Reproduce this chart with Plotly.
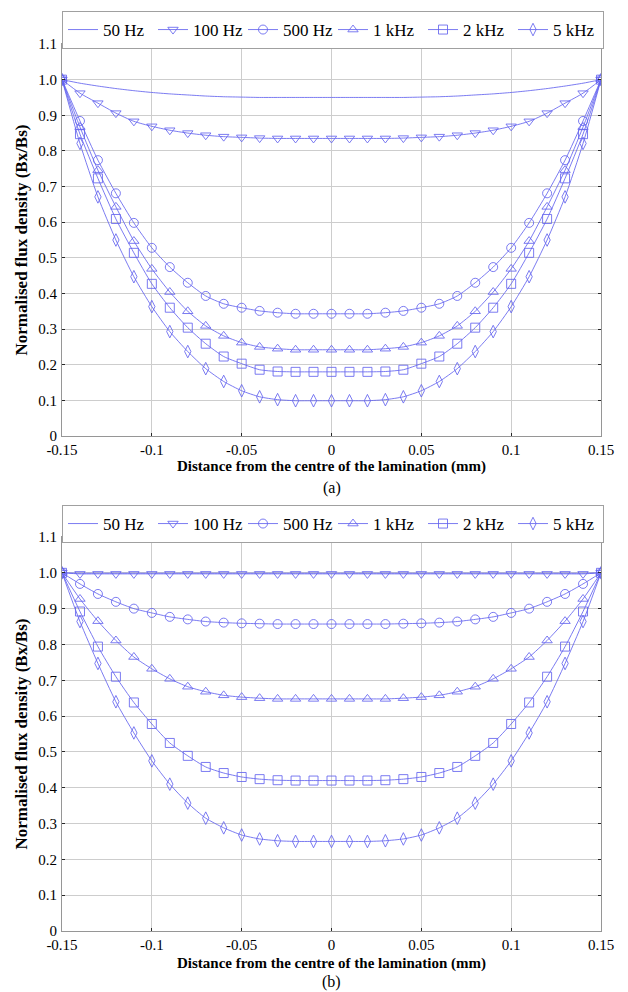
import plotly.graph_objects as go

# ---------------- data ----------------
x_pos = [-0.15, -0.14, -0.13, -0.12, -0.11, -0.10, -0.09, -0.08, -0.07, -0.06, -0.05,
         -0.04, -0.03, -0.02, -0.01, 0.0, 0.01, 0.02, 0.03, 0.04, 0.05, 0.06, 0.07,
         0.08, 0.09, 0.10, 0.11, 0.12, 0.13, 0.14, 0.15]

series_names = ["50 Hz", "100 Hz", "500 Hz", "1 kHz", "2 kHz", "5 kHz"]

# panel (a)
a_50 = [1.0, 0.99, 0.982, 0.975, 0.969, 0.964, 0.96, 0.957, 0.954, 0.952, 0.951, 0.95, 0.95, 0.95, 0.95,
        0.95, 0.95, 0.95, 0.95, 0.95, 0.951, 0.952, 0.954, 0.957, 0.96, 0.964, 0.969, 0.975, 0.982, 0.99, 1.0]
a_100 = [1.0, 0.962, 0.934, 0.906, 0.883, 0.869, 0.858, 0.85, 0.844, 0.84, 0.838, 0.836, 0.835, 0.835, 0.835,
         0.835, 0.835, 0.835, 0.835, 0.836, 0.838, 0.84, 0.844, 0.85, 0.858, 0.869, 0.883, 0.906, 0.934, 0.962, 1.0]
a_500 = [1.0, 0.884, 0.774, 0.681, 0.598, 0.528, 0.474, 0.43, 0.393, 0.371, 0.36, 0.351, 0.346, 0.343, 0.343,
         0.343, 0.343, 0.343, 0.346, 0.351, 0.36, 0.371, 0.393, 0.43, 0.474, 0.528, 0.598, 0.681, 0.774, 0.884, 1.0]
a_1k = [1.0, 0.867, 0.746, 0.643, 0.547, 0.469, 0.404, 0.35, 0.309, 0.281, 0.262, 0.25, 0.245, 0.242, 0.242,
        0.242, 0.242, 0.242, 0.245, 0.25, 0.262, 0.281, 0.309, 0.35, 0.404, 0.469, 0.547, 0.643, 0.746, 0.867, 1.0]
a_2k = [1.0, 0.847, 0.723, 0.609, 0.514, 0.427, 0.36, 0.304, 0.259, 0.223, 0.203, 0.186, 0.181, 0.18, 0.18,
        0.18, 0.18, 0.18, 0.181, 0.186, 0.203, 0.223, 0.259, 0.304, 0.36, 0.427, 0.514, 0.609, 0.723, 0.847, 1.0]
a_5k = [1.0, 0.821, 0.671, 0.55, 0.447, 0.363, 0.293, 0.237, 0.189, 0.153, 0.127, 0.11, 0.102, 0.099, 0.099,
        0.099, 0.099, 0.099, 0.102, 0.11, 0.127, 0.153, 0.189, 0.237, 0.293, 0.363, 0.447, 0.55, 0.671, 0.821, 1.0]

# panel (b)
b_50 = [1.0, 0.999, 0.999, 0.999, 0.999, 0.999, 0.999, 0.999, 0.999, 0.999, 0.999, 0.999, 0.999, 0.999, 0.999,
        0.999, 0.999, 0.999, 0.999, 0.999, 0.999, 0.999, 0.999, 0.999, 0.999, 0.999, 0.999, 0.999, 0.999, 0.999, 1.0]
b_100 = [1.0, 0.997, 0.997, 0.997, 0.997, 0.997, 0.997, 0.997, 0.997, 0.997, 0.997, 0.997, 0.997, 0.997, 0.997,
         0.997, 0.997, 0.997, 0.997, 0.997, 0.997, 0.997, 0.997, 0.997, 0.997, 0.997, 0.997, 0.997, 0.997, 0.997, 1.0]
b_500 = [1.0, 0.969, 0.941, 0.919, 0.9, 0.888, 0.877, 0.87, 0.864, 0.861, 0.859, 0.858, 0.857, 0.857, 0.857,
         0.857, 0.857, 0.857, 0.857, 0.858, 0.859, 0.861, 0.864, 0.87, 0.877, 0.888, 0.9, 0.919, 0.941, 0.969, 1.0]
b_1k = [1.0, 0.927, 0.865, 0.811, 0.765, 0.732, 0.704, 0.682, 0.668, 0.658, 0.653, 0.65, 0.648, 0.648, 0.648,
        0.648, 0.648, 0.648, 0.648, 0.65, 0.653, 0.658, 0.668, 0.682, 0.704, 0.732, 0.765, 0.811, 0.865, 0.927, 1.0]
b_2k = [1.0, 0.892, 0.794, 0.71, 0.638, 0.578, 0.525, 0.489, 0.458, 0.441, 0.43, 0.424, 0.421, 0.42, 0.42,
        0.42, 0.42, 0.42, 0.421, 0.424, 0.43, 0.441, 0.458, 0.489, 0.525, 0.578, 0.638, 0.71, 0.794, 0.892, 1.0]
b_5k = [1.0, 0.864, 0.747, 0.64, 0.553, 0.475, 0.41, 0.357, 0.315, 0.288, 0.268, 0.257, 0.252, 0.25, 0.25,
        0.25, 0.25, 0.25, 0.252, 0.257, 0.268, 0.288, 0.315, 0.357, 0.41, 0.475, 0.553, 0.64, 0.747, 0.864, 1.0]

panel_a = [a_50, a_100, a_500, a_1k, a_2k, a_5k]
panel_b = [b_50, b_100, b_500, b_1k, b_2k, b_5k]

x_tick_vals = [-0.15, -0.1, -0.05, 0, 0.05, 0.1, 0.15]
x_tick_text = ["-0.15", "-0.1", "-0.05", "0", "0.05", "0.1", "0.15"]
y_tick_vals = [0, 0.1, 0.2, 0.3, 0.4, 0.5, 0.6, 0.7, 0.8, 0.9, 1.0, 1.1]
y_tick_text = ["0", "0.1", "0.2", "0.3", "0.4", "0.5", "0.6", "0.7", "0.8", "0.9", "1.0", "1.1"]

x_title = "Distance from the centre of the lamination (mm)"
y_title = "Normalised flux density (Bx/Bs)"
panel_labels = ["(a)", "(b)"]

# ---------------- style ----------------
W, H = 628, 992
LINE_COL = "rgba(100,100,238,0.85)"
symbols = [None, "triangle-down-open", "circle-open", "triangle-up-open", "square-open", "diamond-tall-open"]
FONT = "Liberation Serif, Times New Roman, serif"

fig = go.Figure()

for p, (data, xa, ya, leg) in enumerate([(panel_a, "x", "y", "legend"), (panel_b, "x2", "y2", "legend2")]):
    for i, (name, ys) in enumerate(zip(series_names, data)):
        sym = symbols[i]
        fig.add_trace(go.Scatter(
            x=x_pos, y=ys, name=name, xaxis=xa, yaxis=ya, legend=leg,
            mode="lines" if sym is None else "lines+markers",
            line=dict(color=LINE_COL, width=1, shape="spline", smoothing=0.6),
            marker=dict(symbol=sym if sym else "circle", size=9,
                        color=LINE_COL, line=dict(color=LINE_COL, width=1)),
        ))


def px_x(v):
    return v / W


def px_y(v):
    return 1 - v / H


x_dom = [px_x(62), px_x(601)]
ya_dom = [px_y(436), px_y(44)]
yb_dom = [px_y(931), px_y(537)]

axis_common = dict(
    showgrid=True, gridcolor="rgb(205,205,205)", gridwidth=1,
    showline=True, linecolor="rgb(150,150,150)", linewidth=1, mirror="ticks",
    ticks="inside", ticklen=3, tickcolor="rgb(40,40,40)", automargin=False,
    zeroline=False, tickfont=dict(family=FONT, size=15, color="black"),
)

xaxis_kw = dict(axis_common, range=[-0.15, 0.15], tickvals=x_tick_vals, ticktext=x_tick_text,
                domain=x_dom, ticklabelstandoff=0)
yaxis_kw = dict(axis_common, range=[0, 1.1], tickvals=y_tick_vals, ticktext=y_tick_text,
                ticklabelstandoff=1,
                title=dict(text="<b>" + y_title + "</b>", font=dict(family=FONT, size=17, color="black"),
                           standoff=6))

legend_common = dict(
    orientation="h", xanchor="left", yanchor="top", x=px_x(62),
    bordercolor="rgb(160,160,160)", borderwidth=1, bgcolor="white",
    font=dict(family=FONT, size=17, color="black"),
    entrywidth=45, itemwidth=30, tracegroupgap=0,
)

title_font = dict(family=FONT, size=15, color="black")
annotations = []
for xt_y, lab_y, lab in [(466, 488, panel_labels[0]), (963, 982, panel_labels[1])]:
    annotations.append(dict(text="<b>" + x_title + "</b>", x=(x_dom[0] + x_dom[1]) / 2, y=px_y(xt_y),
                            xref="paper", yref="paper", showarrow=False, xanchor="center",
                            yanchor="middle", font=title_font))
    annotations.append(dict(text=lab, x=(x_dom[0] + x_dom[1]) / 2, y=px_y(lab_y),
                            xref="paper", yref="paper", showarrow=False, xanchor="center",
                            yanchor="middle", font=dict(family=FONT, size=16, color="black")))

fig.update_layout(
    width=W, height=H, margin=dict(l=0, r=0, t=0, b=0, autoexpand=False),
    paper_bgcolor="white", plot_bgcolor="white",
    xaxis=dict(xaxis_kw, anchor="y"),
    yaxis=dict(yaxis_kw, domain=ya_dom, anchor="x"),
    xaxis2=dict(xaxis_kw, anchor="y2"),
    yaxis2=dict(yaxis_kw, domain=yb_dom, anchor="x2"),
    legend=dict(legend_common, y=px_y(11)),
    legend2=dict(legend_common, y=px_y(505)),
    annotations=annotations,
    showlegend=True,
)

fig.write_html("out.html")
